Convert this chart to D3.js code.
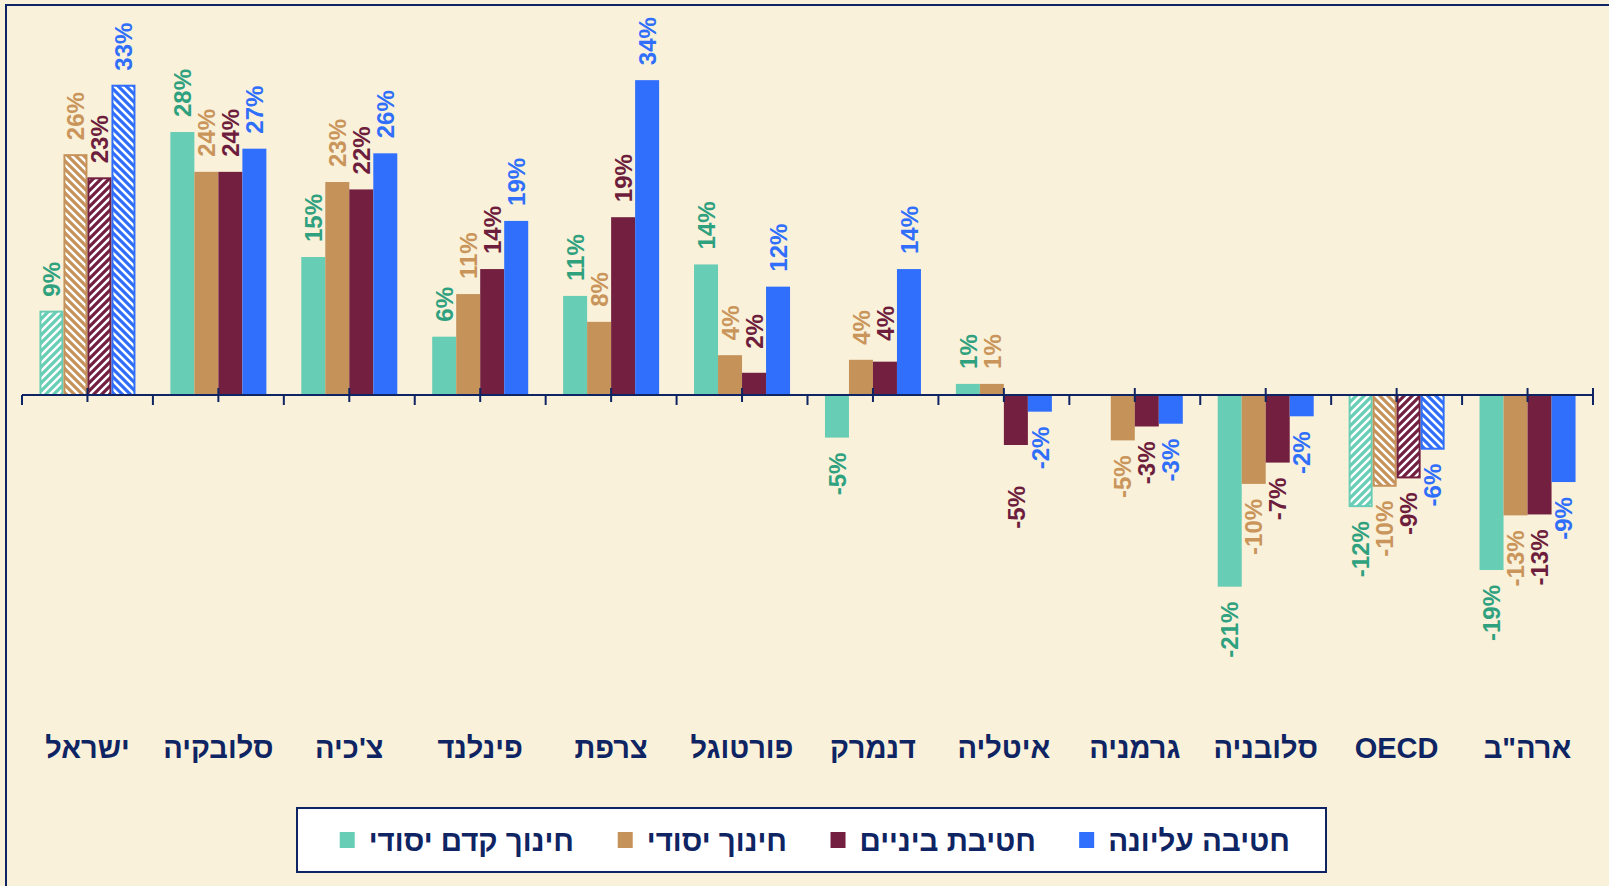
<!DOCTYPE html>
<html lang="he">
<head>
<meta charset="utf-8">
<script src="https://cdn.jsdelivr.net/npm/d3@7/dist/d3.min.js"></script>
<style>
  html, body { margin: 0; padding: 0; background: #FAF1DA; }
  svg { display: block; }
  text { font-family: "Liberation Sans", Arial, "DejaVu Sans", sans-serif; font-weight: bold; }
</style>
</head>
<body>
<svg id="chart" width="1609" height="886"></svg>
<script>
// ---- data ----
const categories = ["ישראל", "סלובקיה", "צ'כיה", "פינלנד", "צרפת", "פורטוגל", "דנמרק", "איטליה", "גרמניה", "סלובניה", "OECD", "ארה\"ב"];
const seriesNames = ["חינוך קדם יסודי", "חינוך יסודי", "חטיבת ביניים", "חטיבה עליונה"];
const preschool   = [9.0, 28.4, 14.9, 6.3, 10.7, 14.1, -4.6, 1.2, null, -20.7, -12.0, -18.9];
const primary     = [25.9, 24.1, 23.0, 10.9, 7.9, 4.3, 3.8, 1.2, -4.9, -9.6, -9.8, -13.0];
const lowerSec    = [23.4, 24.1, 22.2, 13.6, 19.2, 2.4, 3.6, -5.4, -3.4, -7.3, -8.9, -12.9];
const upperSec    = [33.4, 26.6, 26.1, 18.8, 34.0, 11.7, 13.6, -1.8, -3.1, -2.3, -5.8, -9.4];
const hatchedCategories = ["ישראל", "OECD"];

// ---- styles ----
const barColors   = ["#67CDB5", "#C5925A", "#721F40", "#2F6FFB"];
const labelColors = ["#2FA17F", "#C9955B", "#6E1E3D", "#2F6FFB"];
const hatchDir    = ["/", "\\", "/", "\\"];
const navy = "#0E2463";
const labelNudge = { "איטליה|2": 26, "פורטוגל|2": 9, "דנמרק|2": 6 };

const seriesValues = [preschool, primary, lowerSec, upperSec];
const svg = d3.select("#chart");

// frame
svg.append("rect").attr("x", 6).attr("y", 5).attr("width", 1800).attr("height", 1000)
  .attr("fill", "#FAF1DA").attr("stroke", navy).attr("stroke-width", 2);

// patterns
const defs = svg.append("defs");
barColors.forEach((c, i) => {
  const p = defs.append("pattern").attr("id", "hatch" + i)
    .attr("patternUnits", "userSpaceOnUse").attr("width", 8).attr("height", 8);
  p.append("rect").attr("width", 8).attr("height", 8).attr("fill", "#fff");
  const d = hatchDir[i] === "/" ? "M-2,2 L2,-2 M0,8 L8,0 M6,10 L10,6" : "M-2,6 L2,10 M0,0 L8,8 M6,-2 L10,2";
  p.append("path").attr("d", d).attr("stroke", c).attr("stroke-width", 3.2);
});

// scales
const x0 = d3.scaleBand().domain(categories).range([22, 1593]).paddingInner(0.2667).paddingOuter(0.1333);
const x1 = d3.scaleBand().domain(d3.range(4)).range([0, x0.bandwidth()]);
const y = d3.scaleLinear().domain([-32, 38]).range([395 + 32 * 9.26, 395 - 38 * 9.26]);

// bars
const data = [];
categories.forEach((cat, ci) => {
  seriesValues.forEach((arr, si) => {
    const v = arr[ci];
    if (v === null || v === undefined) return;
    data.push({ cat, ci, si, v, hatched: hatchedCategories.includes(cat) });
  });
});

const g = svg.append("g");
g.selectAll("rect.bar").data(data).join("rect")
  .attr("class", "bar")
  .attr("x", d => x0(d.cat) + x1(d.si) + (d.hatched ? 1 : 0))
  .attr("width", d => x1.bandwidth() - (d.hatched ? 2 : 0))
  .attr("y", d => Math.min(y(d.v), y(0)))
  .attr("height", d => Math.abs(y(d.v) - y(0)))
  .attr("fill", d => d.hatched ? `url(#hatch${d.si})` : barColors[d.si])
  .attr("stroke", d => d.hatched ? barColors[d.si] : "none")
  .attr("stroke-width", 2);

// axis
const ax = svg.append("g");
ax.append("line").attr("x1", 22).attr("x2", 1593).attr("y1", y(0)).attr("y2", y(0))
  .attr("stroke", navy).attr("stroke-width", 2);
const bounds = categories.map(c => x0(c) - x0.step() * x0.paddingInner() / 2);
bounds.push(1593);
ax.selectAll("line.bt").data(bounds).join("line").attr("class", "bt")
  .attr("x1", d => d).attr("x2", d => d)
  .attr("y1", (d, i) => i === bounds.length - 1 ? y(0) - 7 : y(0))
  .attr("y2", y(0) + 10)
  .attr("stroke", navy).attr("stroke-width", 2);
ax.selectAll("line.ct").data(categories).join("line").attr("class", "ct")
  .attr("x1", d => x0(d) + x0.bandwidth() / 2).attr("x2", d => x0(d) + x0.bandwidth() / 2)
  .attr("y1", y(0) - 7).attr("y2", y(0) + 7)
  .attr("stroke", navy).attr("stroke-width", 2);

// value labels
const fmt = v => Math.round(v) + "%";
g.selectAll("text.val").data(data).join("text")
  .attr("class", "val")
  .attr("transform", d => {
    const cx = x0(d.cat) + x1(d.si) + x1.bandwidth() / 2;
    const nudge = labelNudge[d.cat + "|" + d.si] || 0;
    const yy = d.v >= 0 ? y(d.v) - 15 - nudge : y(d.v) + 15 + nudge;
    return `translate(${cx},${yy}) rotate(-90)`;
  })
  .attr("dy", "0.36em")
  .attr("text-anchor", d => d.v >= 0 ? "start" : "end")
  .attr("font-size", 24)
  .attr("fill", d => labelColors[d.si])
  .text(d => fmt(d.v));

// category labels
svg.selectAll("text.cat").data(categories).join("text")
  .attr("class", "cat")
  .attr("x", d => x0(d) + x0.bandwidth() / 2)
  .attr("y", 758)
  .attr("text-anchor", "middle")
  .attr("font-size", 29)
  .attr("fill", navy)
  .text(d => d);

// legend
const lg = svg.append("g");
lg.append("rect").attr("x", 297).attr("y", 808).attr("width", 1029).attr("height", 64)
  .attr("fill", "#fff").attr("stroke", navy).attr("stroke-width", 2);
const legendRight = [574, 787, 1036, 1290];
seriesNames.forEach((name, i) => {
  const t = lg.append("text").attr("x", legendRight[i]).attr("y", 851)
    .attr("text-anchor", "end").attr("font-size", 29.5).attr("fill", navy).text(name);
  const w = t.node().getComputedTextLength();
  lg.append("rect").attr("x", legendRight[i] - w - 14 - 15).attr("y", 832)
    .attr("width", 15).attr("height", 16).attr("fill", barColors[i]);
});
</script>
</body>
</html>
